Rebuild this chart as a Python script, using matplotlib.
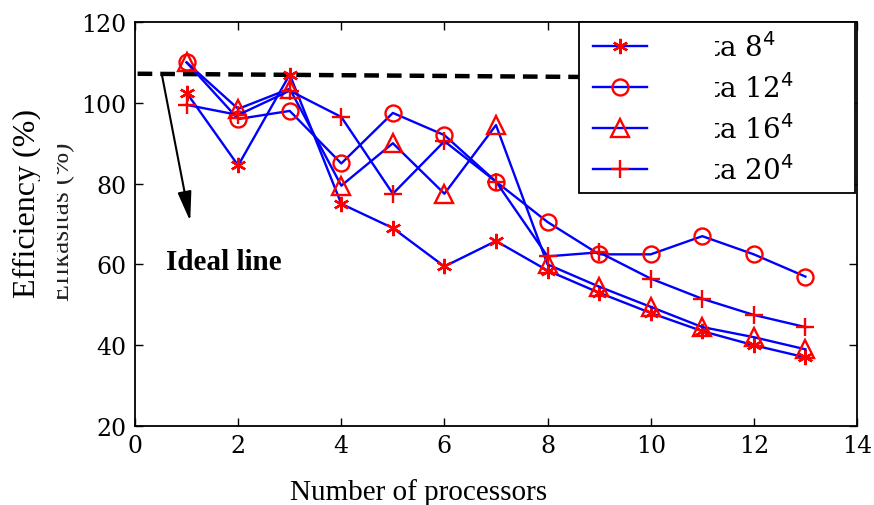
import matplotlib
matplotlib.use("Agg")
import matplotlib.pyplot as plt
from matplotlib.patches import Rectangle

x = [1, 2, 3, 4, 5, 6, 7, 8, 9, 10, 11, 12, 13]
eff_8 = [102.5, 84.5, 107, 75, 69, 59.5, 65.8, 58.5, 53, 48, 43.5, 40, 37]
eff_12 = [110, 96, 98, 85, 97.5, 92, 80.5, 70.5, 62.5, 62.5, 67, 62.5, 57]
eff_16 = [110, 98.5, 103.5, 79.5, 90, 77.5, 94.5, 60, 54.5, 49.5, 44.5, 42, 39]
eff_20 = [99.5, 97, 103, 96.5, 77.5, 90.5, 80.5, 62, 63, 56.5, 51.5, 47.5, 44.5]
labels = ["ta 8$^4$", "ta 12$^4$", "ta 16$^4$", "ta 20$^4$"]
ideal_x = [0.05, 8.7]
ideal_y = [107.2, 106.4]

fig = plt.figure(figsize=(8.74, 5.06), dpi=100)
ax = fig.add_axes([0.1545, 0.156, 0.826, 0.7985])

ax.plot(ideal_x, ideal_y, color="black", lw=3.2, ls=(0, (3.3, 1.8)), zorder=1)

series = [eff_8, eff_12, eff_16, eff_20]
markers = [(6, 2, 0), "o", "^", "+"]
msizes = [11, 11.5, 12.5, 13.5]
for s, m, ms, lab in zip(series, markers, msizes, labels):
    ax.plot(x, s, color="blue", lw=1.7, marker=m, ms=ms, mec="red",
            mfc="none", mew=1.7, label=lab, zorder=2)

ax.annotate("", xy=(1.07, 70.7), xytext=(0.52, 107.0),
            arrowprops=dict(arrowstyle="-|>,head_length=1.8,head_width=0.42",
                            color="black", lw=1.5, shrinkA=0, shrinkB=0))
ax.text(0.6, 60.7, "Ideal line", fontsize=21, fontweight="bold",
        family="Liberation Serif", va="center", ha="left")

ax.set_xlim(0, 14)
ax.set_ylim(20, 120)
ax.set_xticks(range(0, 15, 2))
ax.set_yticks(range(20, 121, 20))
ax.tick_params(direction="in", top=True, right=True, length=6, width=1,
               labelsize=17, pad=6)
for lab in ax.get_xticklabels() + ax.get_yticklabels():
    lab.set_family("DejaVu Serif")
for sp in ax.spines.values():
    sp.set_linewidth(1.3)

fig.text(419 / 874, 1 - 493 / 506, "Number of processors", fontsize=21,
         family="Liberation Serif", ha="center", va="center")
fig.text(27 / 874, 1 - 203 / 506, "Efficiency (%)", fontsize=23,
         family="Liberation Serif", ha="center", va="center", rotation=90)
# partly hidden second y label, visible in the reference behind the first
fig.text(63 / 874, 1 - 222 / 506, "Efikasitas (%)", fontsize=20,
         family="Liberation Serif", ha="center", va="center", rotation=90,
         color="#222222")
fig.patches.append(Rectangle((40 / 874, 1 - 330 / 506), 17 / 874, 220 / 506,
                             transform=fig.transFigure, facecolor="white",
                             edgecolor="none", zorder=10))

# legend frame (drawn by hand to match the wide box)
x0, x1 = (579 - 135) / 722, (855 - 135) / 722
y0, y1 = (427 - 194) / 404, 1.0
frame = Rectangle((x0, y0), x1 - x0, y1 - y0, transform=ax.transAxes,
                  facecolor="white", edgecolor="black", lw=1.3, zorder=4,
                  clip_on=False)
ax.add_patch(frame)

leg = ax.legend(loc="upper left", bbox_to_anchor=((593 - 135) / 722, (427 - 33) / 404),
                prop={"family": "DejaVu Serif", "size": 20},
                frameon=False, borderpad=0, labelspacing=0.4,
                handlelength=1.95, handletextpad=2.2, borderaxespad=0)
leg.set_zorder(5)

# white patch hiding the start of the labels, as in the reference
cover = Rectangle(((650 - 135) / 722, y0 + 0.01), (715 - 650) / 722, y1 - y0 - 0.02,
                  transform=ax.transAxes, facecolor="white", edgecolor="none",
                  zorder=6)
ax.add_patch(cover)

fig.savefig("out.png", dpi=100)
